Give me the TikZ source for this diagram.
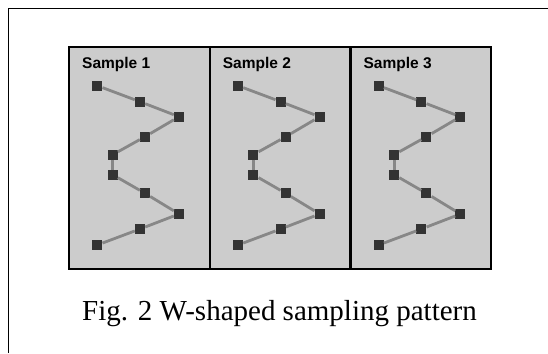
\documentclass[tikz,border=0pt]{standalone}
\usepackage{fontspec}
\setmainfont{Liberation Serif}
\newfontfamily\labelfont{Liberation Sans}

\tikzset{
  panel/.style={fill=black!20, draw=black, line width=2.3pt},
  pt/.style={fill=black!80, minimum size=10pt, inner sep=0pt},
  link/.style={draw=black!47, line width=2.8pt},
  lab/.style={anchor=base west, inner sep=0pt, font=\labelfont\bfseries\fontsize{15.5}{15.5}\selectfont},
}

\begin{document}
\begin{tikzpicture}[x=1pt,y=-1pt]
  \useasboundingbox (0,0) rectangle (548,353);
  \draw[line width=1.8pt] (8.5,353) -- (8.5,8.5) -- (548,8.5);
  \foreach \i/\x in {1/69.3,2/210,3/350.7}{
    \draw[panel] (\x,47.3) rectangle ++(140.5,222);
    \node[lab] (lab\i) at (\x+12.7,68) {Sample \i};
    \foreach \dx/\dy [count=\j] in {28/85.7,70.7/101.7,109.7/116.7,75.7/136.7,43.4/154.7,
                                    43.4/174.7,75.7/193.3,109.7/214,70.7/229,28/245}
      \node[pt] (s\i-\j) at (\x+\dx,\dy) {};
    \foreach \j [count=\k from 2] in {1,...,9}
      \draw[link] (s\i-\j) -- (s\i-\k);
  }
  \node[anchor=base, inner sep=0pt, font=\fontsize{29}{29}\selectfont] (cap) at (279.5,320)
    {Fig. 2 W-shaped sampling pattern};
\end{tikzpicture}
\end{document}
